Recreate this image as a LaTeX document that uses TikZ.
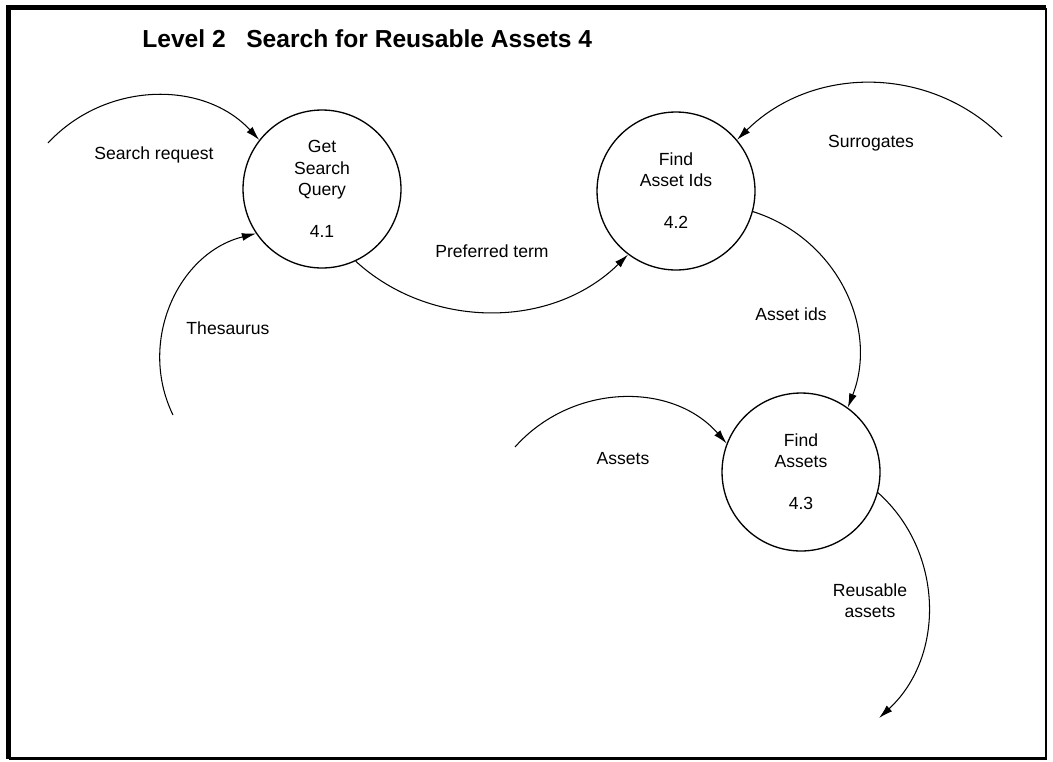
\documentclass[tikz,border=0pt]{standalone}
\usepackage{fontspec}
\setmainfont{Liberation Sans}
\usetikzlibrary{arrows.meta}

\begin{document}
\begin{tikzpicture}[x=0.02cm,y=-0.02cm]
    \tikzstyle{process}=[draw,circle,line width=0.75pt,minimum size=3.16cm,inner sep=0pt,align=center,font=\fontsize{10}{12}\selectfont];
    \tikzstyle{flow}=[line width=0.6pt,-{Latex[length=8pt,width=4.5pt]}];
    \tikzstyle{flowlabel}=[align=center,font=\fontsize{10}{12}\selectfont];
    \useasboundingbox (0,0) rectangle (1053,761);
    \draw [line width=3.4pt] (1046,7.5) -- (8.5,7.5) -- (8.5,758.5);
    \draw [line width=1.4pt] (8.5,758.5) -- (1046,758.5) -- (1046,7.5);
    
    \node (title) [anchor=base west,inner sep=0pt,font=\bfseries\fontsize{14}{17}\selectfont] at (142,47) {Level 2\hspace{0.834em}Search for Reusable Assets 4};
    
    \node (gsq) [process] at (322,189) {Get\\Search\\Query\\[12pt]4.1};
    \node (fai) [process] at (676,191) {Find\\Asset Ids\\[12pt]4.2};
    \node (fa) [process] at (801,472) {Find\\Assets\\[12pt]4.3};
    
    \coordinate (request) at (48,143);
    \coordinate (thesaurus) at (173,415);
    \coordinate (surrogates) at (1002,137);
    \coordinate (assets) at (515,447);
    \coordinate (reusable) at (879,718);
    
    \draw [flow] (request) .. controls (105.6,80.9) and (203.8,79.9) .. (gsq.142);
    \draw [flow] (thesaurus) .. controls (137.1,341.3) and (178.4,252.8) .. (gsq.214.5);
    \draw [flow] (gsq.295) .. controls (429.7,329.2) and (551.3,330.2) .. (fai.233.6);
    \draw [flow] (surrogates) .. controls (929.5,65) and (812.5,65) .. (fai.40);
    \draw [flow] (fai.345) .. controls (836.4,238) and (879,327.4) .. (fa.54);
    \draw [flow] (assets) .. controls (571.8,383.1) and (672,381.1) .. (fa.159);
    \draw [flow] (fa.345) .. controls (944.3,551.9) and (945.2,656.9) .. (reusable);
    
    \node (lrequest) [flowlabel] at (154,155) {Search request};
    \node (lthesaurus) [flowlabel] at (228,328) {Thesaurus};
    \node (lpreferred) [flowlabel] at (492,251) {Preferred term};
    \node (lsurrogates) [flowlabel] at (871,143) {Surrogates};
    \node (lassetids) [flowlabel] at (791,314) {Asset ids};
    \node (lassets) [flowlabel] at (623,459) {Assets};
    \node (lreusable) [flowlabel] at (870,601) {Reusable\\assets};
    
\end{tikzpicture}
\end{document}
